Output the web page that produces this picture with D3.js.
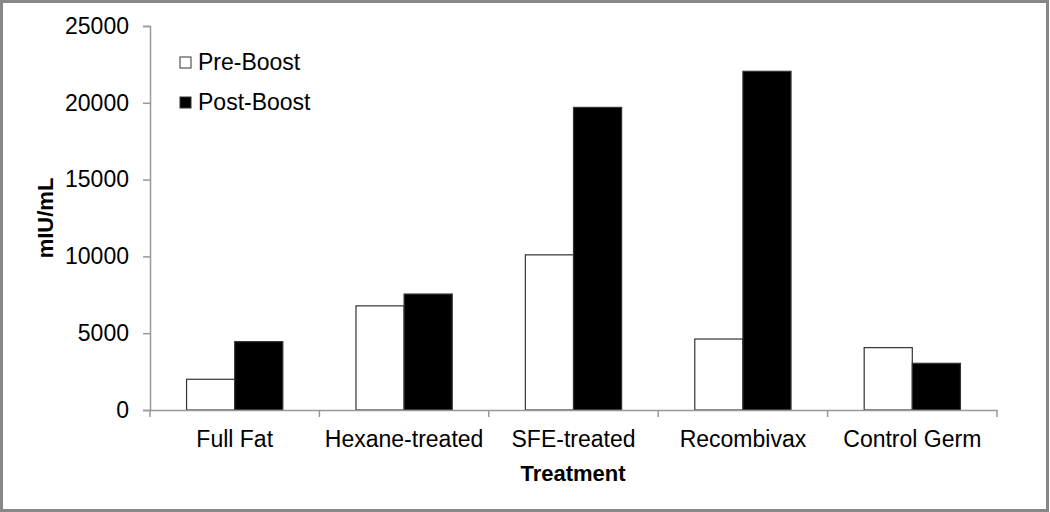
<!DOCTYPE html>
<html>
<head>
<meta charset="utf-8">
<script src="https://cdn.jsdelivr.net/npm/d3@7"></script>
<style>
  body { margin: 0; background: #fff; }
  svg text { font-family: "Liberation Sans", Arial, sans-serif; fill: #000; }
</style>
</head>
<body>
<svg id="chart" width="1050" height="512"></svg>
<script>
var categories = ['Full Fat', 'Hexane-treated', 'SFE-treated', 'Recombivax', 'Control Germ'];
var series = ['Pre-Boost', 'Post-Boost'];
var preBoost = [2000, 6780, 10100, 4620, 4060];
var postBoost = [4450, 7550, 19700, 22050, 3040];
var yTicks = [0, 5000, 10000, 15000, 20000, 25000];

var svg = d3.select('#chart');

// frame
svg.append('rect')
  .attr('x', 1.5).attr('y', 1.5)
  .attr('width', 1046).attr('height', 509)
  .attr('fill', '#fff')
  .attr('stroke', '#878787')
  .attr('stroke-width', 3);

var xScale = d3.scaleBand()
  .domain(categories)
  .range([150, 997]);

var inner = d3.scaleBand()
  .domain(series)
  .range([0, xScale.bandwidth()])
  .paddingInner(0)
  .paddingOuter(0.76);

var yScale = d3.scaleLinear()
  .domain([0, 25000])
  .range([410, 26]);

var fills = { 'Pre-Boost': '#fff', 'Post-Boost': '#000' };

var rows = categories.map(function(c, i) {
  return { cat: c, vals: [{ s: 'Pre-Boost', v: preBoost[i] }, { s: 'Post-Boost', v: postBoost[i] }] };
});

// bars
var groups = svg.selectAll('.grupo')
  .data(rows)
  .join('g')
  .attr('class', 'grupo')
  .attr('transform', function(d) { return 'translate(' + xScale(d.cat) + ',0)'; });

groups.selectAll('rect')
  .data(function(d) { return d.vals; })
  .join('rect')
  .attr('x', function(d) { return inner(d.s); })
  .attr('y', function(d) { return yScale(d.v); })
  .attr('width', inner.bandwidth())
  .attr('height', function(d) { return yScale(0) - yScale(d.v); })
  .attr('fill', function(d) { return fills[d.s]; })
  .attr('stroke', '#333')
  .attr('stroke-width', 1.2);

// y axis
var yAxis = svg.append('g')
  .attr('transform', 'translate(150,0)')
  .call(d3.axisLeft(yScale).tickValues(yTicks).tickFormat(d3.format('d')).tickSize(7).tickPadding(14));
yAxis.select('.domain').attr('stroke', '#999').attr('stroke-width', 1.5);
yAxis.selectAll('.tick line').attr('stroke', '#999').attr('stroke-width', 1.5);
yAxis.selectAll('.tick text').attr('font-size', 23).attr('font-family', '"Liberation Sans", Arial, sans-serif').attr('fill', '#000');

// x axis
var xAxis = svg.append('g')
  .attr('transform', 'translate(0,410)')
  .call(d3.axisBottom(xScale).tickSize(0).tickPadding(21));
xAxis.select('.domain').attr('stroke', '#999').attr('stroke-width', 1.5);
xAxis.selectAll('.tick text').attr('font-size', 23).attr('font-family', '"Liberation Sans", Arial, sans-serif').attr('fill', '#000');

// category separators
var bounds = categories.map(function(c) { return xScale(c); }).concat([xScale.range()[1]]);
svg.selectAll('.sep')
  .data(bounds)
  .join('line')
  .attr('class', 'sep')
  .attr('x1', function(d) { return d; })
  .attr('x2', function(d) { return d; })
  .attr('y1', 410)
  .attr('y2', 417)
  .attr('stroke', '#999')
  .attr('stroke-width', 1.5);

// axis titles
svg.append('text')
  .attr('x', 573)
  .attr('y', 481)
  .attr('text-anchor', 'middle')
  .attr('font-size', 22)
  .attr('font-weight', 'bold')
  .text('Treatment');

svg.append('text')
  .attr('transform', 'translate(53,218) rotate(-90)')
  .attr('text-anchor', 'middle')
  .attr('font-size', 22)
  .attr('font-weight', 'bold')
  .text('mIU/mL');

// legend
var legend = svg.selectAll('.leyenda')
  .data(series)
  .join('g')
  .attr('class', 'leyenda')
  .attr('transform', function(d, i) { return 'translate(180,' + (57 + i * 40) + ')'; });

legend.append('rect')
  .attr('width', 11)
  .attr('height', 11)
  .attr('fill', function(d) { return fills[d]; })
  .attr('stroke', '#333')
  .attr('stroke-width', 1);

legend.append('text')
  .attr('x', 18)
  .attr('y', 13)
  .attr('font-size', 23)
  .text(function(d) { return d; });
</script>
</body>
</html>
